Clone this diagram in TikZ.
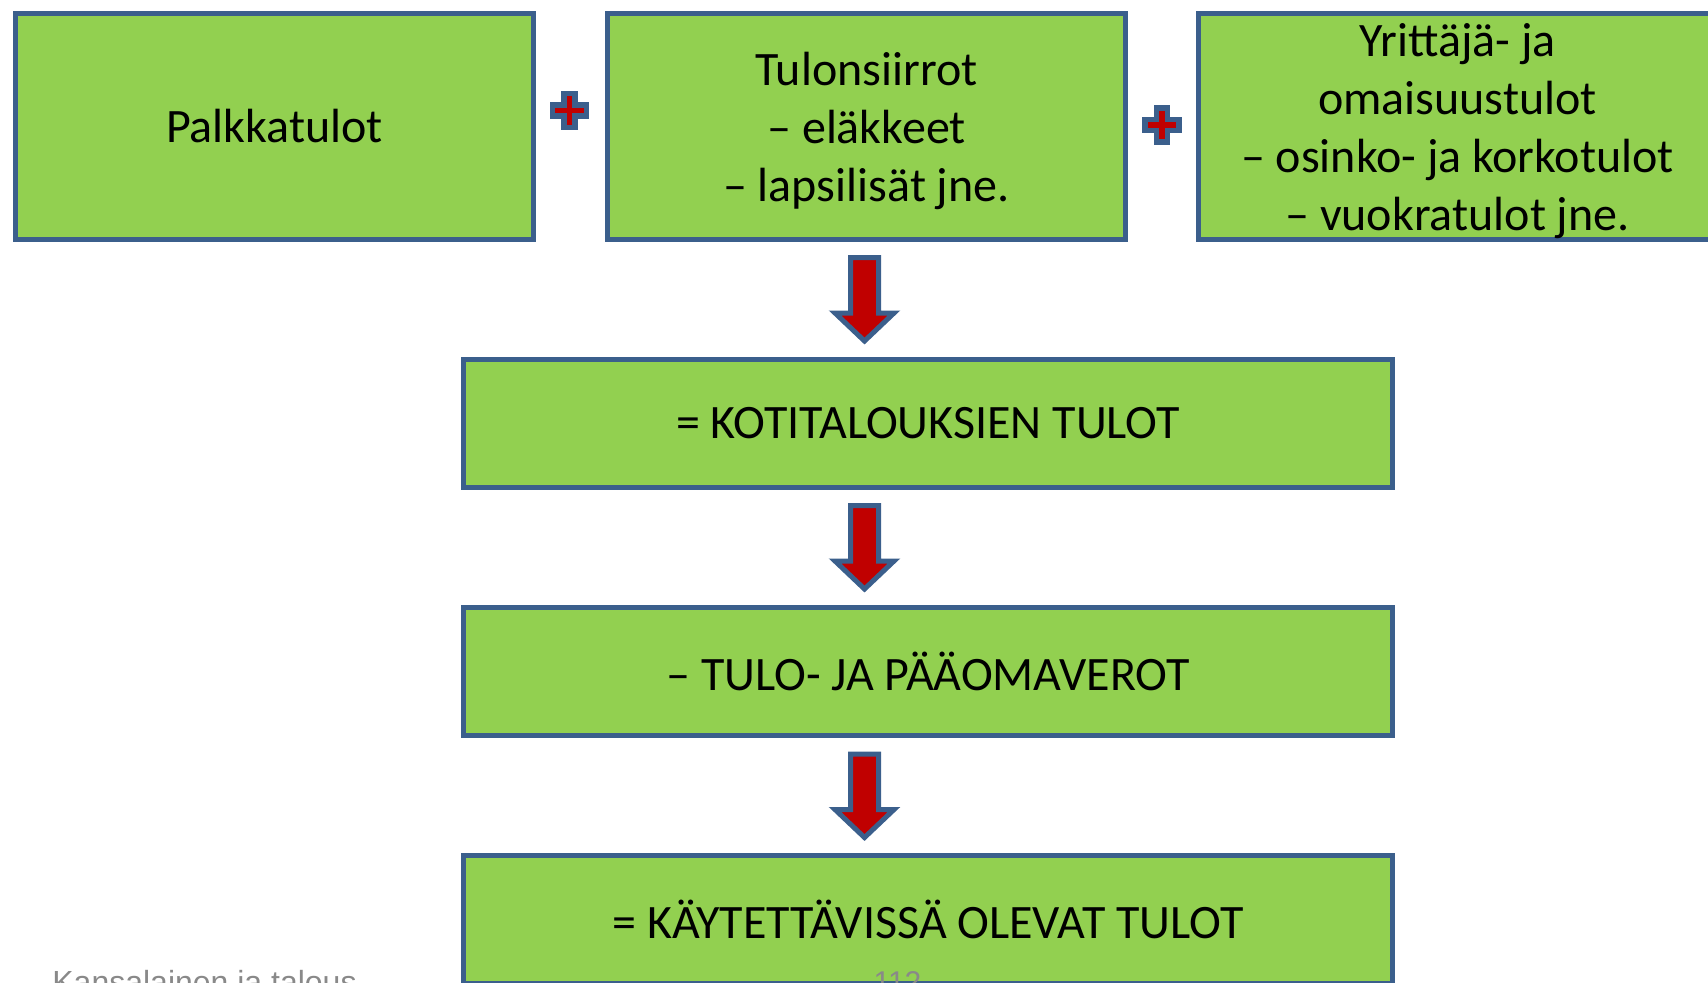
\documentclass[tikz,border=0pt]{standalone}
\usepackage{fontspec}
\setmainfont{Carlito}
\newfontfamily\footfont{Liberation Sans}
\usetikzlibrary{calc}
\definecolor{boxgreen}{HTML}{92D050}
\definecolor{boxblue}{HTML}{3B5F8C}
\definecolor{arrred}{HTML}{C00000}
\definecolor{footgray}{HTML}{898989}
\newcommand{\boxlines}[1]{\raisebox{-8.9pt}[0pt][0pt]{\begin{tabular}{@{}c@{}}#1\end{tabular}}}
\tikzset{
  greenbox/.style={draw=boxblue, fill=boxgreen, line width=2.5pt, rectangle,
    inner sep=0pt, align=center, font=\fontsize{24}{29.1}\selectfont, text=black},
  topbox/.style={greenbox, minimum width=259pt, minimum height=113pt},
  widebox/.style={greenbox, minimum width=464.5pt, minimum height=64pt},
  footer/.style={font=\footfont\fontsize{16}{19}\selectfont, text=footgray,
    inner sep=0pt, anchor=base west},
  plusmark/.pic={
    \draw[boxblue, fill=arrred, line width=2.75pt, miter limit=10]
      (-5.5,-17) -- (5.5,-17) -- (5.5,-5.5) -- (17,-5.5) -- (17,5.5) -- (5.5,5.5)
      -- (5.5,17) -- (-5.5,17) -- (-5.5,5.5) -- (-17,5.5) -- (-17,-5.5) -- (-5.5,-5.5) -- cycle;
  },
  downarrow/.pic={
    \draw[boxblue, fill=arrred, line width=2.5pt, line join=miter]
      (-14,-42.5) -- (14,-42.5) -- (14,13) -- (29.5,13) -- (0,41) -- (-29.5,13) -- (-14,13) -- cycle;
  }
}
\begin{document}
\begin{tikzpicture}[x=0.5pt, y=-0.5pt]
\useasboundingbox (0,0) rectangle (1708,982);
\clip (0,0) rectangle (1708,982);

\node[topbox] (palkka) at (274.5,126.5) {Palkkatulot};
\node[topbox] (siirrot) at (866.5,126.5) {\boxlines{Tulonsiirrot\\– eläkkeet\\– lapsilisät jne.}};
\node[topbox] (yritys) at (1457.5,126.5) {\boxlines{Yrittäjä- ja\\omaisuustulot\\– osinko- ja korkotulot\\– vuokratulot jne.}};

\node[widebox] (koti) at (928,423.5) {= KOTITALOUKSIEN TULOT};
\node[widebox] (verot) at (928,671.5) {– TULO- JA PÄÄOMAVEROT};
\node[widebox] (kaytto) at (928,919.5) {= KÄYTETTÄVISSÄ OLEVAT TULOT};

\pic at ($(palkka.east)!0.5!(siirrot.west)+(-1,-16)$) {plusmark};
\pic at ($(siirrot.east)!0.5!(yritys.west)+(0,-1.5)$) {plusmark};

\coordinate (a1) at ($(siirrot.south)!0.5!(siirrot.south |- koti.north)+(-2,0.5)$);
\coordinate (m2) at ($(koti.south)!0.5!(verot.north)+(0,0.5)$);
\coordinate (m3) at ($(verot.south)!0.5!(kaytto.north)+(0,1)$);
\pic at (a1) {downarrow};
\pic at (a1 |- m2) {downarrow};
\pic at (a1 |- m3) {downarrow};

\node[footer] (foot) at (52,993) {Kansalainen ja talous};
\node[footer, anchor=base, font=\footfont\fontsize{15}{18}\selectfont] (page) at (897.5,992.5) {112};
\end{tikzpicture}
\end{document}
